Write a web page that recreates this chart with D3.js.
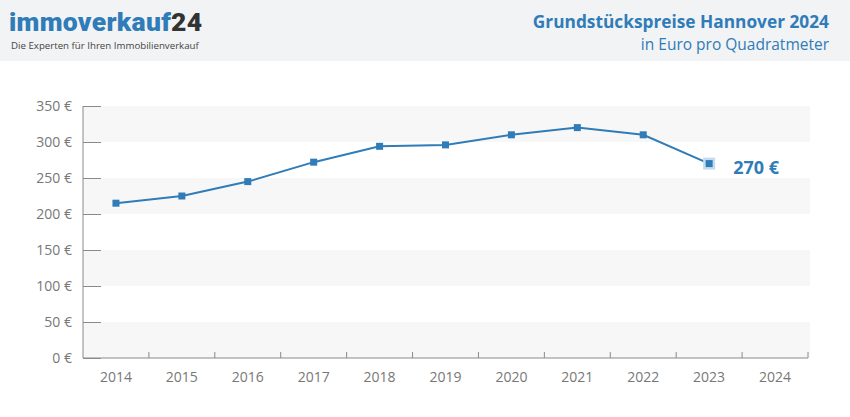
<!DOCTYPE html>
<html>
<head>
<meta charset="utf-8">
<script src="https://cdn.jsdelivr.net/npm/d3@7"></script>
<style>
  body { margin: 0; background: #fff; }
  svg { display: block; font-family: "Open Sans", sans-serif; }
</style>
</head>
<body>
<div class="chart"></div>
<script>
// chart data
var years = ["2014", "2015", "2016", "2017", "2018", "2019", "2020", "2021", "2022", "2023", "2024"];
var prices = [215, 225, 245, 272, 294, 296, 310, 320, 310, 270];
var yTicks = [0, 50, 100, 150, 200, 250, 300, 350];

var svgWidth = 850;
var svgHeight = 417;

var margin = { top: 106, right: 42, bottom: 59, left: 83 };
var width = svgWidth - margin.left - margin.right;
var height = svgHeight - margin.top - margin.bottom;

var blue = "#2f7cb8";

var svg = d3.select(".chart")
  .append("svg")
  .attr("width", svgWidth)
  .attr("height", svgHeight);

// header band
svg.append("rect")
  .attr("width", svgWidth)
  .attr("height", 61)
  .attr("fill", "#f2f3f5");

var logo = svg.append("text")
  .attr("x", 9)
  .attr("y", 31)
  .attr("font-family", "Roboto, sans-serif")
  .attr("font-size", 26.5)
  .attr("font-weight", 900)
  .attr("letter-spacing", 0.3);
logo.append("tspan").attr("fill", blue).text("immoverkauf");
logo.append("tspan").attr("fill", "#333").text("24");

svg.append("text")
  .attr("x", 11)
  .attr("y", 48.5)
  .attr("font-size", 9.7)
  .attr("fill", "#444")
  .text("Die Experten für Ihren Immobilienverkauf");

svg.append("text")
  .attr("x", 829)
  .attr("y", 28)
  .attr("text-anchor", "end")
  .attr("font-size", 17.3)
  .attr("font-weight", "bold")
  .attr("fill", blue)
  .text("Grundstückspreise Hannover 2024");

svg.append("text")
  .attr("x", 829)
  .attr("y", 50)
  .attr("text-anchor", "end")
  .attr("font-size", 15.5)
  .attr("fill", blue)
  .text("in Euro pro Quadratmeter");

var chartGroup = svg.append("g")
  .attr("transform", `translate(${margin.left}, ${margin.top})`);

var xBand = d3.scaleBand()
  .domain(years)
  .range([0, width]);

var yLinearScale = d3.scaleLinear()
  .domain([0, 350])
  .range([height, 0]);

// alternating stripes
var stripes = d3.range(0, 350, 100);
chartGroup.selectAll(".stripe")
  .data(stripes)
  .enter()
  .append("rect")
  .attr("class", "stripe")
  .attr("x", 0)
  .attr("width", width + 2)
  .attr("y", d => yLinearScale(d + 50))
  .attr("height", d => yLinearScale(d) - yLinearScale(d + 50))
  .attr("fill", "#f7f7f7");

// y axis
var leftAxis = d3.axisRight(yLinearScale)
  .tickValues(yTicks)
  .tickSize(18)
  .tickFormat("");
var yAxis = chartGroup.append("g").call(leftAxis);
yAxis.select(".domain").remove();
yAxis.selectAll("line").attr("stroke", "#8a8a8a");

chartGroup.append("line")
  .attr("x1", 0).attr("x2", 0)
  .attr("y1", 0).attr("y2", height)
  .attr("stroke", "#8a8a8a");

chartGroup.selectAll(".ylab")
  .data(yTicks)
  .enter()
  .append("text")
  .attr("class", "ylab")
  .attr("x", -11)
  .attr("y", d => yLinearScale(d) + 5)
  .attr("text-anchor", "end")
  .attr("font-size", 14)
  .attr("fill", "#777")
  .text(d => d + " €");

// x axis
chartGroup.append("line")
  .attr("x1", 0).attr("x2", width)
  .attr("y1", height).attr("y2", height)
  .attr("stroke", "#8a8a8a");

var boundaries = years.slice(1).map(d => xBand(d)).concat([width]);
chartGroup.selectAll(".xtick")
  .data(boundaries)
  .enter()
  .append("line")
  .attr("class", "xtick")
  .attr("x1", d => d).attr("x2", d => d)
  .attr("y1", height - 6).attr("y2", height)
  .attr("stroke", "#8a8a8a");

chartGroup.selectAll(".xlab")
  .data(years)
  .enter()
  .append("text")
  .attr("class", "xlab")
  .attr("x", d => xBand(d) + xBand.bandwidth() / 2)
  .attr("y", height + 24)
  .attr("text-anchor", "middle")
  .attr("font-size", 14)
  .attr("fill", "#777")
  .text(d => d);

// line
var points = prices.map((p, i) => ({ year: years[i], value: p }));
var line = d3.line()
  .x(d => xBand(d.year) + xBand.bandwidth() / 2)
  .y(d => yLinearScale(d.value));

chartGroup.append("path")
  .datum(points)
  .attr("d", line)
  .attr("fill", "none")
  .attr("stroke", blue)
  .attr("stroke-width", 2);

var last = points[points.length - 1];
var lastX = xBand(last.year) + xBand.bandwidth() / 2;
var lastY = yLinearScale(last.value);

chartGroup.append("rect")
  .attr("x", lastX - 6).attr("y", lastY - 6)
  .attr("width", 12).attr("height", 12)
  .attr("fill", "#c5dcef");

chartGroup.selectAll(".marker")
  .data(points)
  .enter()
  .append("rect")
  .attr("class", "marker")
  .attr("x", d => xBand(d.year) + xBand.bandwidth() / 2 - 3.5)
  .attr("y", d => yLinearScale(d.value) - 3.5)
  .attr("width", 7)
  .attr("height", 7)
  .attr("fill", blue);

chartGroup.append("text")
  .attr("x", lastX + 24)
  .attr("y", lastY + 10)
  .attr("font-size", 18)
  .attr("font-weight", "bold")
  .attr("fill", blue)
  .text(last.value + " €");
</script>
</body>
</html>
